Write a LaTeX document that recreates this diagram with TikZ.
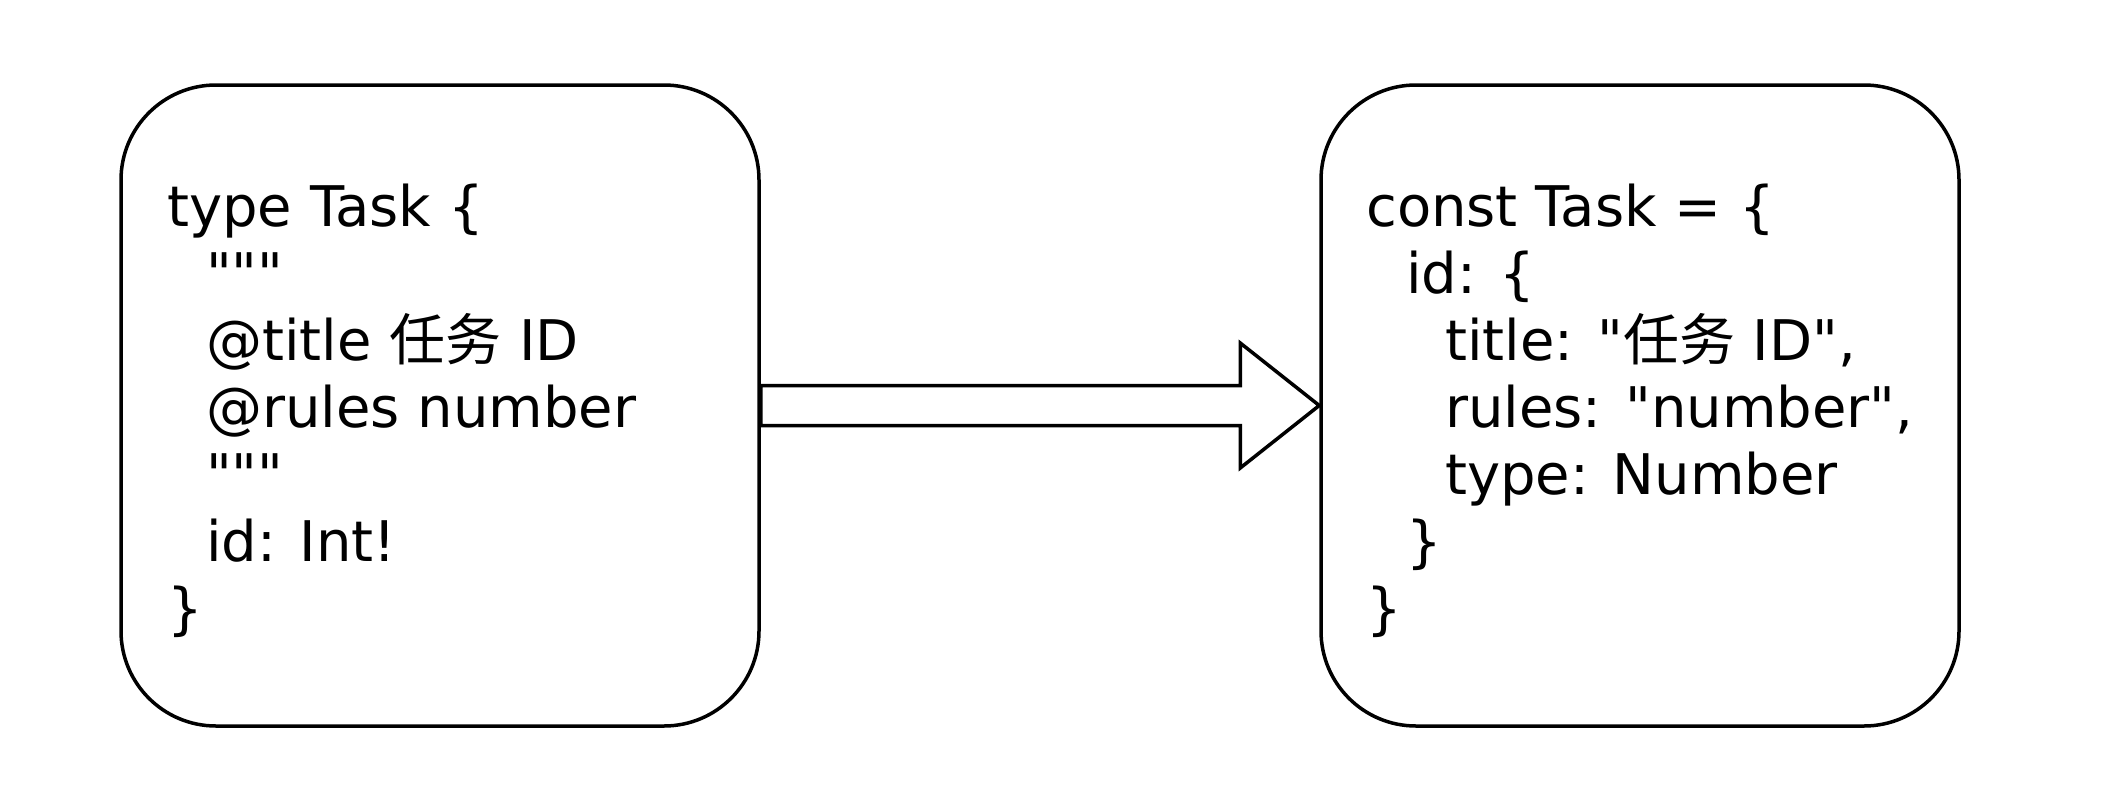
\documentclass[tikz,border=0pt]{standalone}
\usepackage{fontspec}
\newfontfamily\vfont{DejaVu Sans}
\newfontfamily\cjk{Noto Sans CJK SC}
\begin{document}
\begin{tikzpicture}[x=1pt,y=1pt,
  box/.style={draw=black, line width=3.5pt, rounded corners=95pt, minimum width=638pt, minimum height=641pt, inner sep=0pt, fill=white},
  code/.style={anchor=base west, inner sep=0pt, font=\vfont\fontsize{56pt}{67pt}\selectfont},
  bigarrow/.style={draw=black, line width=3.5pt, fill=white, line join=miter}]
\fill[white] (0,0) rectangle (2108,-784);
\useasboundingbox (0,0) rectangle (2108,-784);
\node[box] (L) at (440,-405.5) {};
\node[box] (R) at (1640,-405.5) {};
% left text
\node[code] (l1) at (167,-226) {type Task \{};
\node[code] (l2) at (206,-293) {"""};
\node[code] (l3) at (206,-360) {@title {\cjk 任务} ID};
\node[code] (l4) at (206,-427) {@rules number};
\node[code] (l5) at (206,-494) {"""};
\node[code] (l6) at (206,-561) {id: Int!};
\node[code] (l7) at (167,-628) {\}};
% right text
\node[code] (r1) at (1366,-226) {const Task = \{};
\node[code] (r2) at (1406,-293) {id: \{};
\node[code] (r3) at (1445,-360) {title: "{\cjk 任务} ID",};
\node[code] (r4) at (1445,-427) {rules: "number",};
\node[code] (r5) at (1445,-494) {type: Number};
\node[code] (r6) at (1406,-561) {\}};
\node[code] (r7) at (1366,-628) {\}};
% block arrow
\draw[bigarrow] ([yshift=20pt]L.east) -- ([xshift=-79pt,yshift=20pt]R.west)
  -- ([xshift=-79pt,yshift=62.5pt]R.west) -- (R.west)
  -- ([xshift=-79pt,yshift=-62.5pt]R.west) -- ([xshift=-79pt,yshift=-20pt]R.west)
  -- ([yshift=-20pt]L.east) -- cycle;
\end{tikzpicture}
\end{document}
